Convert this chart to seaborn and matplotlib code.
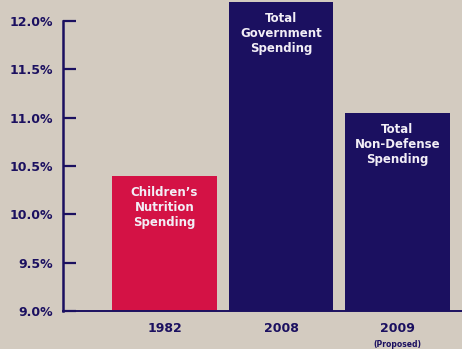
import matplotlib
matplotlib.use("Agg")
import matplotlib.pyplot as plt
import seaborn as sns
import pandas as pd

# Spending growth rates by year
years = ["1982", "2008", "2009"]
values = [10.4, 12.2, 11.05]
bar_labels = ["Children\u2019s\nNutrition\nSpending", "Total\nGovernment\nSpending", "Total\nNon-Defense\nSpending"]
sub_labels = ["", "", "(Proposed)"]
y_ticks = [9.0, 9.5, 10.0, 10.5, 11.0, 11.5, 12.0]

BG = "#d3cbc0"
NAVY = "#1b1060"
RED = "#d41245"
colors = [RED, NAVY, NAVY]

sns.set_theme(style="white")
plt.rcParams["font.family"] = ["DejaVu Sans"]

df = pd.DataFrame({"year": years, "value": values})

fig = plt.figure(figsize=(4.62, 3.49), dpi=100, facecolor=BG)
ax = fig.add_axes([63 / 462, 38 / 349, 1 - 63 / 462, 311 / 349])
ax.set_facecolor(BG)

sns.barplot(data=df, x="year", y="value", hue="year", palette=colors,
            width=0.9, saturation=1, legend=False, ax=ax, bottom=0)

# Bars start at the 9% baseline
for patch, v in zip(ax.patches, values):
    patch.set_y(9.0)
    patch.set_height(v - 9.0)
    patch.set_edgecolor("none")
    patch.set_clip_on(False)

ax.set_ylim(9.0, 12.217)
ax.set_xlim(-0.871, 2.554)

ax.set_yticks(y_ticks)
ax.set_yticklabels([f"{t:.1f}%" for t in y_ticks], color=NAVY,
                   fontsize=9, fontweight="bold")
ax.tick_params(axis="y", direction="in", length=9, width=1.6, color=NAVY, pad=7, left=True)
ax.tick_params(axis="x", length=0, pad=8)

ax.set_xticks(range(len(years)))
ax.set_xticklabels(years, color=NAVY, fontsize=9, fontweight="bold")
ax.set_xlabel("")
ax.set_ylabel("")

for s in ["top", "right"]:
    ax.spines[s].set_visible(False)
ax.spines["left"].set_bounds(9.0, 12.0)
ax.spines["left"].set_color(NAVY)
ax.spines["left"].set_linewidth(1.8)
ax.spines["bottom"].set_color(NAVY)
ax.spines["bottom"].set_linewidth(1.4)

# Labels inside the bars
for i, (v, lab) in enumerate(zip(values, bar_labels)):
    ax.text(i, v - 0.11, lab, ha="center", va="top", color="#f2eef6",
            fontsize=8.5, fontweight="bold", linespacing=1.2)

# Sub-labels under the year ticks
for i, sl in enumerate(sub_labels):
    if sl:
        ax.annotate(sl, xy=(i, 9.0), xycoords="data", xytext=(0, -24),
                    textcoords="offset points", ha="center", va="center",
                    color=NAVY, fontsize=5.5, fontweight="bold", annotation_clip=False)

fig.savefig("out.png", dpi=100, facecolor=BG)
